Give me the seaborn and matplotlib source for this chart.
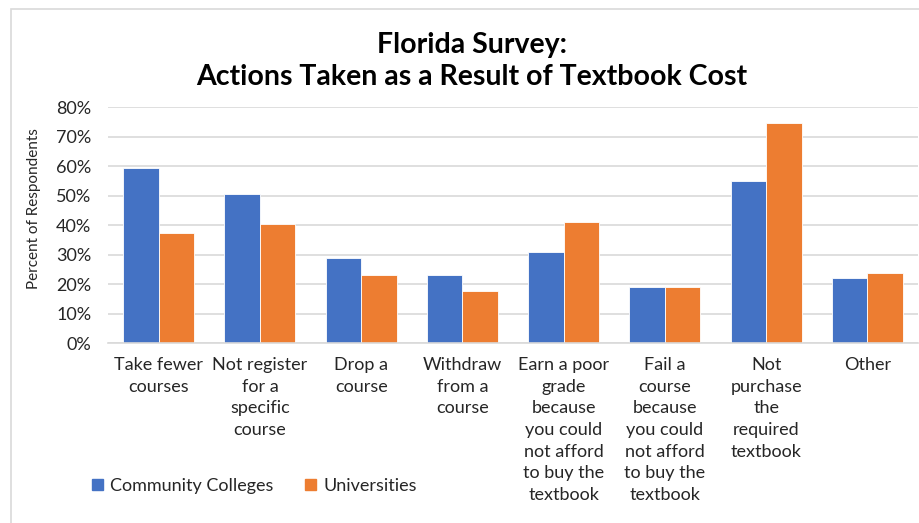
import matplotlib
matplotlib.use("Agg")
import matplotlib.pyplot as plt
import seaborn as sns
import pandas as pd
from matplotlib.ticker import PercentFormatter
from matplotlib.patches import Rectangle, Patch

categories = [
    "Take fewer\ncourses",
    "Not register\nfor a\nspecific\ncourse",
    "Drop a\ncourse",
    "Withdraw\nfrom a\ncourse",
    "Earn a poor\ngrade\nbecause\nyou could\nnot afford\nto buy the\ntextbook",
    "Fail a\ncourse\nbecause\nyou could\nnot afford\nto buy the\ntextbook",
    "Not\npurchase\nthe\nrequired\ntextbook",
    "Other",
]
community_colleges = [59.5, 50.7, 28.8, 23.2, 30.8, 19.0, 54.9, 22.0]
universities = [37.5, 40.5, 23.2, 17.6, 41.0, 19.0, 74.8, 23.6]
series_names = ["Community Colleges", "Universities"]
colors = ["#4472C4", "#ED7D31"]
yticks = [0, 10, 20, 30, 40, 50, 60, 70, 80]

df = pd.DataFrame({
    "Action": categories * 2,
    "Group": [series_names[0]] * len(categories) + [series_names[1]] * len(categories),
    "Percent": community_colleges + universities,
})

sns.set_theme(style="white")
plt.rcParams["font.family"] = ["Lato", "DejaVu Sans"]
text_color = "#262626"

fig = plt.figure(figsize=(9.19, 5.23), dpi=100)
ax = fig.add_axes([108 / 919, 1 - 343 / 523, 810 / 919, (343 - 107.3) / 523])

sns.barplot(data=df, x="Action", y="Percent", hue="Group", order=categories,
            hue_order=series_names, palette=colors, width=0.7, ax=ax,
            edgecolor="white", linewidth=0.6, saturation=1, legend=False)

ax.set_ylim(0, 80)
ax.set_xlim(-0.5, 7.5)
ax.set_yticks(yticks)
ax.yaxis.set_major_formatter(PercentFormatter(decimals=0))
ax.grid(axis="y", color="#d9d9d9", linewidth=1.2)
ax.set_axisbelow(True)
for s in ["top", "right", "left"]:
    ax.spines[s].set_visible(False)
ax.spines["bottom"].set_color("#d9d9d9")
ax.spines["bottom"].set_linewidth(1.2)
ax.tick_params(axis="y", length=0, pad=12, labelsize=13, labelcolor=text_color)
ax.tick_params(axis="x", length=0, pad=10, labelsize=13, labelcolor=text_color)
for lab in ax.get_xticklabels():
    lab.set_linespacing(1.44)
    lab.set_verticalalignment("top")
ax.set_xlabel("")
ax.set_ylabel("Percent of Respondents", fontsize=11, color=text_color)
ax.yaxis.set_label_coords(-67 / 810, 0.57)

fig.text(472 / 919, 1 - 61 / 523, "Florida Survey:\nActions Taken as a Result of Textbook Cost",
         ha="center", va="center", fontsize=20.5, fontweight="bold", color="black",
         linespacing=1.33)

handles = [Patch(facecolor=c, edgecolor=c) for c in colors]
fig.legend(handles, series_names, loc="center left", bbox_to_anchor=(76 / 919, 1 - 486 / 523),
           ncol=2, frameon=False, fontsize=13, handlelength=0.6, handleheight=0.6,
           handletextpad=0.4, columnspacing=1.75, labelcolor=text_color)

fig.patches.append(Rectangle((11 / 919, -0.1), 1.0, 1.1 - 9 / 523, transform=fig.transFigure,
                             fill=False, edgecolor="#d9d9d9", linewidth=1.2))

fig.savefig("out.png", dpi=100)
